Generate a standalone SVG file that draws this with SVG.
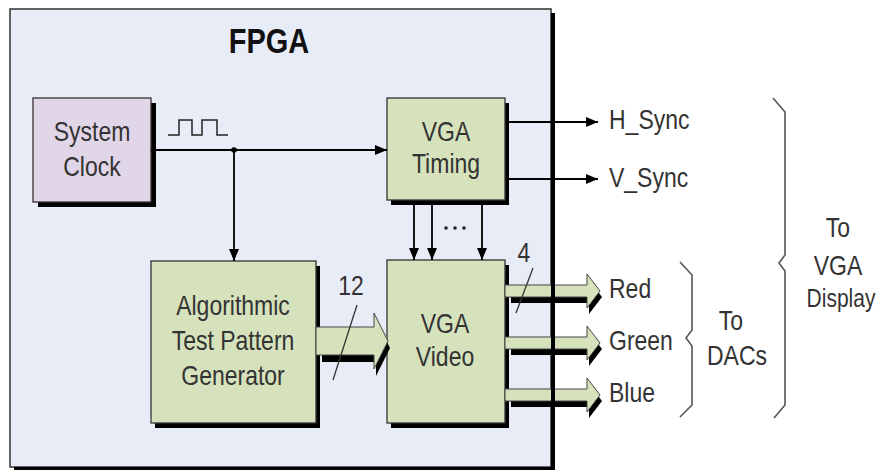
<svg xmlns="http://www.w3.org/2000/svg" width="879" height="471" viewBox="0 0 879 471">
<style>
.t{font-family:"Liberation Sans",Arial,sans-serif;font-size:23px;fill:#333;text-anchor:middle}
.l{font-family:"Liberation Sans",Arial,sans-serif;font-size:23px;fill:#333;text-anchor:start}
.box{stroke:#333;stroke-width:1.3}
.g{fill:#d6e2bc}
.shadow{fill:#000}
.wire{stroke:#000;stroke-width:1.8;fill:none}
.bus{fill:#d6e2bc;stroke:#444;stroke-width:1}
.brace{stroke:#555;stroke-width:1.6;fill:none}
.slash{stroke:#333;stroke-width:1.3}
</style>
<defs>
<marker id="ah" viewBox="0 0 12 10" refX="12" refY="5" markerWidth="12" markerHeight="10" markerUnits="userSpaceOnUse" orient="auto">
<path d="M0,0 L12,5 L0,10 Z" fill="#000"/>
</marker>
</defs>
<rect width="879" height="471" fill="#fff"/>
<g id="fpga">
<rect x="10" y="9" width="541" height="458" fill="#e8ecf6" stroke="#333" stroke-width="1.5"/>
<text class="t" style="font-weight:bold;font-size:29px;fill:#111" transform="translate(269,53) scale(1,1.22)">FPGA</text>
</g>
<g id="system-clock">
<rect class="shadow" x="38" y="103" width="118" height="104"/>
<rect class="box" x="33" y="98" width="118" height="104" fill="#e1d6e8"/>
<text class="t" transform="translate(92,141) scale(1,1.2)">System</text>
<text class="t" transform="translate(92,176) scale(1,1.2)">Clock</text>
</g>
<g id="vga-timing">
<rect class="shadow" x="391" y="103" width="118" height="102"/>
<rect class="box g" x="387" y="98" width="118" height="102"/>
<text class="t" transform="translate(446,141) scale(1,1.2)">VGA</text>
<text class="t" transform="translate(446,173) scale(1,1.2)">Timing</text>
</g>
<g id="atpg">
<rect class="shadow" x="155" y="266" width="165" height="162"/>
<rect class="box g" x="151" y="261" width="165" height="162"/>
<text class="t" transform="translate(233,315) scale(1,1.2)">Algorithmic</text>
<text class="t" transform="translate(233,350) scale(1,1.2)">Test Pattern</text>
<text class="t" transform="translate(233,385) scale(1,1.2)">Generator</text>
</g>
<g id="vga-video">
<rect class="shadow" x="391" y="265" width="118" height="163"/>
<rect class="box g" x="387" y="260" width="118" height="163"/>
<text class="t" transform="translate(445,333) scale(1,1.2)">VGA</text>
<text class="t" transform="translate(445,366) scale(1,1.2)">Video</text>
</g>
<g id="connectors">
<path d="M168,135 H179 V120 H192 V135 H202 V120 H217 V135 H228" stroke="#222" stroke-width="1.5" fill="none"/>
<line class="wire" x1="151" y1="150" x2="387" y2="150" marker-end="url(#ah)"/>
<circle cx="234" cy="150" r="2.8" fill="#000"/>
<line class="wire" x1="234" y1="150" x2="234" y2="261" marker-end="url(#ah)"/>
<line class="wire" x1="414" y1="205" x2="414" y2="260" marker-end="url(#ah)"/>
<line class="wire" x1="432" y1="205" x2="432" y2="260" marker-end="url(#ah)"/>
<line class="wire" x1="482" y1="205" x2="482" y2="260" marker-end="url(#ah)"/>
<g fill="#222"><circle cx="446" cy="228" r="1.8"/><circle cx="455" cy="228" r="1.8"/><circle cx="464" cy="228" r="1.8"/></g>
<line class="wire" x1="509" y1="122" x2="598" y2="122" marker-end="url(#ah)"/>
<line class="wire" x1="509" y1="179" x2="598" y2="179" marker-end="url(#ah)"/>
<path class="shadow" transform="translate(2,7)" d="M320,327 H374 V313 L388,341 L374,369 V355 H320 Z"/>
<path class="bus" d="M316,327 H374 V313 L388,341 L374,369 V355 H316 Z"/>
<path class="shadow" transform="translate(2,6)" d="M509,285 H587 V274 L600,291 L587,308 V297 H509 Z"/>
<path class="bus" d="M505,285 H587 V274 L600,291 L587,308 V297 H505 Z"/>
<path class="shadow" transform="translate(2,6)" d="M509,337 H587 V326 L600,343 L587,360 V349 H509 Z"/>
<path class="bus" d="M505,337 H587 V326 L600,343 L587,360 V349 H505 Z"/>
<path class="shadow" transform="translate(2,6)" d="M509,389 H587 V378 L600,395 L587,412 V401 H509 Z"/>
<path class="bus" d="M505,389 H587 V378 L600,395 L587,412 V401 H505 Z"/>
<line class="slash" x1="357" y1="305" x2="333" y2="380"/>
<text class="t" transform="translate(351,295) scale(1,1.2)">12</text>
<line class="slash" x1="533" y1="268" x2="516" y2="313"/>
<text class="t" transform="translate(524,262) scale(1,1.2)">4</text>
</g>
<rect id="fpga-shadow" x="551" y="13" width="4" height="457" fill="#000"/>
<rect x="14" y="467" width="541" height="3" fill="#000"/>
<g id="h-sync"><text class="l" transform="translate(609,129) scale(1,1.2)">H_Sync</text></g>
<g id="v-sync"><text class="l" transform="translate(609,187) scale(1,1.2)">V_Sync</text></g>
<g id="red"><text class="l" transform="translate(609,298) scale(1,1.2)">Red</text></g>
<g id="green"><text class="l" transform="translate(609,350) scale(1,1.2)">Green</text></g>
<g id="blue"><text class="l" transform="translate(609,402) scale(1,1.2)">Blue</text></g>
<g id="to-dacs">
<path class="brace" d="M680,262 L692,275 V330 L686,338 L692,346 V405 L680,417"/>
<text class="t" transform="translate(731,330) scale(1,1.2)">To</text>
<text class="t" transform="translate(737,365) scale(1,1.2)">DACs</text>
</g>
<g id="to-vga-display">
<path class="brace" d="M773,98 L785,112 V255 L779,263 L785,271 V405 L774,418"/>
<text class="t" transform="translate(838,237) scale(1,1.2)">To</text>
<text class="t" transform="translate(838,275) scale(1,1.2)">VGA</text>
<text class="t" style="font-size:21px" transform="translate(841,307) scale(1,1.25)">Display</text>
</g>
</svg>
